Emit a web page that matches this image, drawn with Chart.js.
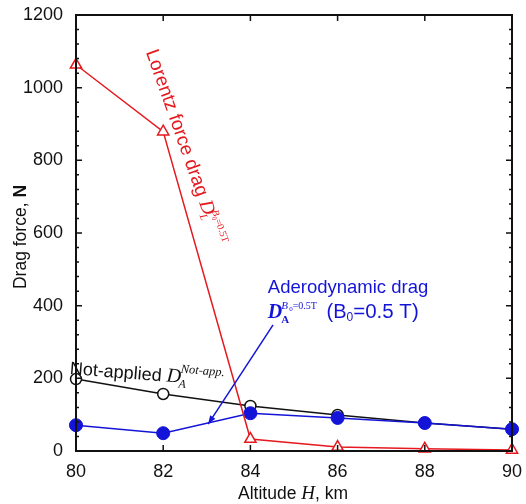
<!DOCTYPE html>
<html>
<head>
<meta charset="utf-8">
<script src="https://cdn.jsdelivr.net/npm/chart.js@4.4.1/dist/chart.umd.min.js"></script>
<style>
html,body{margin:0;padding:0;background:#fff;}
#wrap{width:526px;height:504px;}
</style>
</head>
<body>
<div id="wrap"><canvas id="c" width="526" height="504"></canvas></div>
<script>
// ---- data ----
const altitudes = [80, 82, 84, 86, 88, 90];
const lorentzDrag = [1063, 879, 33, 11, 6, 3];
const notAppliedDrag = [198, 157, 124, 99, 77, 60];
const aeroDrag = [71, 49, 104, 91, 77, 60];
const xTicks = [80, 82, 84, 86, 88, 90];
const yTicks = [0, 200, 400, 600, 800, 1000, 1200];

const RED = '#e5191e';
const BLUE = '#1414d8';
const BLACK = '#111111';
const SANS = '"Liberation Sans", Arial, Helvetica, sans-serif';
const SERIF = '"Liberation Serif", "Times New Roman", serif';

function pts(ys){ return altitudes.map((x,i)=>({x:x,y:ys[i]})); }

function drawRuns(ctx, x, y, angle, runs, color){
  ctx.save();
  ctx.translate(x, y);
  ctx.rotate(angle*Math.PI/180);
  ctx.textBaseline = 'alphabetic';
  ctx.textAlign = 'left';
  let cx = 0, lastStart = 0;
  runs.forEach(r=>{
    ctx.font = r.font;
    ctx.fillStyle = r.color || color;
    let sx = r.sameX ? lastStart : cx;
    if(r.dx) sx += r.dx;
    ctx.fillText(r.t, sx, r.dy||0);
    const w = ctx.measureText(r.t).width;
    if(!r.sameX){ lastStart = sx; }
    cx = Math.max(cx, sx + w);
  });
  ctx.restore();
}

function runsWidth(ctx, runs){
  let w = 0;
  ctx.save();
  runs.forEach(r=>{ ctx.font = r.font; w += ctx.measureText(r.t).width; });
  ctx.restore();
  return w;
}

const framePlugin = {
  id:'frame',
  afterDatasetsDraw(chart){
    const ctx = chart.ctx, a = chart.chartArea;
    const xs = chart.scales.x, ys = chart.scales.y;
    ctx.save();
    ctx.strokeStyle = BLACK;
    ctx.lineWidth = 2;
    ctx.strokeRect(a.left, a.top, a.right-a.left, a.bottom-a.top);
    ctx.lineWidth = 1.5;
    ctx.beginPath();
    xTicks.forEach(v=>{
      const px = xs.getPixelForValue(v);
      ctx.moveTo(px, a.bottom); ctx.lineTo(px, a.bottom-6);
      ctx.moveTo(px, a.top); ctx.lineTo(px, a.top+6);
    });
    for(let v=0; v<=1200; v+=40){
      const py = ys.getPixelForValue(v);
      const len = (v % 200 === 0) ? 6 : 3;
      ctx.moveTo(a.left, py); ctx.lineTo(a.left+len, py);
      ctx.moveTo(a.right, py); ctx.lineTo(a.right-len, py);
    }
    ctx.stroke();
    ctx.restore();
  },
  afterDraw(chart){
    const ctx = chart.ctx, a = chart.chartArea;
    const xs = chart.scales.x, ys = chart.scales.y;
    const X = v=>xs.getPixelForValue(v), Y = v=>ys.getPixelForValue(v);

    // axis titles
    const xRuns = [
      {t:'Altitude ', font:'17.5px '+SANS},
      {t:'H', font:'italic 19px '+SERIF},
      {t:', km', font:'17.5px '+SANS}
    ];
    drawRuns(ctx, 293 - runsWidth(ctx, xRuns)/2, 499, 0, xRuns, BLACK);

    const yRuns = [
      {t:'Drag force, ', font:'17.5px '+SANS},
      {t:'N', font:'bold 17.5px '+SANS}
    ];
    drawRuns(ctx, 26, 237 + runsWidth(ctx, yRuns)/2, -90, yRuns, BLACK);

    // Lorentz annotation (red, rotated)
    drawRuns(ctx, X(81.6), Y(1098), 70.5, [
      {t:'Lorentz force drag ', font:'19px '+SANS},
      {t:'D', font:'italic 20px '+SERIF},
      {t:'L', font:'italic 11px '+SERIF, dy:4, dx:-2},
      {t:'B', font:'italic 10px '+SERIF, dy:-9, sameX:true, dx:0},
      {t:'0', font:'7px '+SERIF, dy:-7},
      {t:'=0.5T', font:'10px '+SERIF, dy:-9}
    ], RED);

    // Aerodynamic annotation (blue)
    drawRuns(ctx, X(84.4), Y(436), 0, [
      {t:'Aderodynamic drag', font:'18.5px '+SANS}
    ], BLUE);
    drawRuns(ctx, X(84.4), Y(366), 0, [
      {t:'D', font:'bold italic 20px '+SERIF},
      {t:'A', font:'bold 11px '+SERIF, dy:5, dx:-1},
      {t:'B', font:'italic 11px '+SERIF, dy:-9, sameX:true, dx:0},
      {t:'0', font:'7px '+SERIF, dy:-7},
      {t:'=0.5T', font:'10px '+SERIF, dy:-9},
      {t:' (B', font:'20px '+SANS, dx:4},
      {t:'0', font:'12px '+SANS, dy:3},
      {t:'=0.5 T)', font:'20.5px '+SANS}
    ], BLUE);

    // Not-applied annotation (black, slightly tilted)
    drawRuns(ctx, X(79.85), Y(212), 4.5, [
      {t:'Not-applied ', font:'18px '+SANS},
      {t:'D', font:'italic 20px '+SERIF},
      {t:'A', font:'italic 12px '+SERIF, dy:5, dx:-2},
      {t:'Not-app.', font:'italic 12.5px '+SERIF, dy:-10, sameX:true, dx:1}
    ], BLACK);

    // Blue arrow
    const x0 = X(84.52), y0 = Y(347), x1 = X(83.03), y1 = Y(74);
    ctx.save();
    ctx.strokeStyle = BLUE; ctx.fillStyle = BLUE; ctx.lineWidth = 1.5;
    ctx.beginPath(); ctx.moveTo(x0,y0); ctx.lineTo(x1,y1); ctx.stroke();
    const ang = Math.atan2(y1-y0, x1-x0), L = 9, W = 0.35;
    ctx.beginPath();
    ctx.moveTo(x1,y1);
    ctx.lineTo(x1 - L*Math.cos(ang-W), y1 - L*Math.sin(ang-W));
    ctx.lineTo(x1 - L*Math.cos(ang+W), y1 - L*Math.sin(ang+W));
    ctx.closePath(); ctx.fill();
    ctx.restore();
  }
};

new Chart(document.getElementById('c'), {
  type:'line',
  data:{
    datasets:[
      {label:'Lorentz', data:pts(lorentzDrag), borderColor:RED, borderWidth:1.5,
       pointStyle:'triangle', pointRadius:6.5, pointBackgroundColor:'#fff', pointBorderColor:RED, pointBorderWidth:1.5, order:0, clip:false},
      {label:'Aero', data:pts(aeroDrag), borderColor:BLUE, borderWidth:1.5,
       pointStyle:'circle', pointRadius:6.5, pointBackgroundColor:BLUE, pointBorderColor:BLUE, pointBorderWidth:1, order:1, clip:false},
      {label:'Not applied', data:pts(notAppliedDrag), borderColor:BLACK, borderWidth:1.5,
       pointStyle:'circle', pointRadius:5.5, pointBackgroundColor:'#fff', pointBorderColor:BLACK, pointBorderWidth:1.5, order:2, clip:false}
    ]
  },
  options:{
    responsive:false,
    animation:false,
    layout:{padding:{top:15, right:14, left:0, bottom:0}},
    plugins:{legend:{display:false}, tooltip:{enabled:false}},
    elements:{line:{tension:0}},
    scales:{
      x:{type:'linear', min:80, max:90,
         afterBuildTicks(s){ s.ticks = xTicks.map(v=>({value:v})); },
         afterFit(s){ s.height = 53; s.paddingLeft = 0; s.paddingRight = 0; },
         grid:{display:false, drawTicks:false}, border:{display:false},
         ticks:{padding:10, color:BLACK, font:{family:SANS, size:18}, maxRotation:0, callback:v=>String(v)}},
      y:{type:'linear', min:0, max:1200,
         afterBuildTicks(s){ s.ticks = yTicks.map(v=>({value:v})); },
         afterFit(s){ s.width = 76; s.paddingTop = 0; s.paddingBottom = 0; },
         grid:{display:false, drawTicks:false}, border:{display:false},
         ticks:{padding:13, color:BLACK, font:{family:SANS, size:18}, callback:v=>String(v)}}
    }
  },
  plugins:[framePlugin]
});
</script>
</body>
</html>
